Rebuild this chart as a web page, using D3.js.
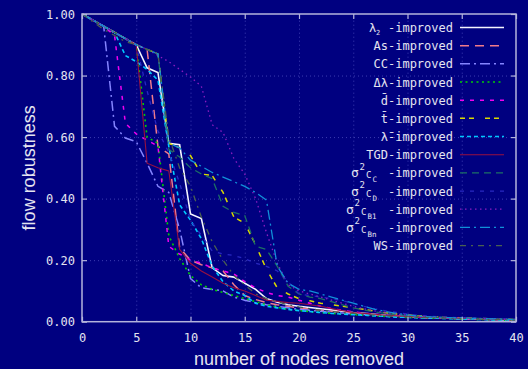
<!DOCTYPE html>
<html>
<head>
<meta charset="utf-8">
<script src="https://cdn.jsdelivr.net/npm/d3@7"></script>
<style>
  html, body { margin: 0; padding: 0; background: #000080; }
  svg { display: block; }
  .tick-label { font-family: "DejaVu Sans Mono", monospace; font-size: 12px; fill: #e4e4f0; }
  .leg { font-family: "DejaVu Sans Mono", monospace; font-size: 12px; fill: #e4e4f0; }
  .title { font-family: "Liberation Sans", Arial, sans-serif; font-size: 18px; fill: #e4e4f0; }
</style>
</head>
<body>
<div id="chart"></div>
<script>
const nodesRemoved = [0,1,2,3,4,5,6,7,8,9,10,11,12,13,14,15,16,17,18,19,20,21,22,23,24,25,26,27,28,29,30,31,32,33,34,35,36,37,38,39,40];
const xTicks = [0, 5, 10, 15, 20, 25, 30, 35, 40];
const yTicks = [0, 0.2, 0.4, 0.6, 0.8, 1.0];

const lambda2 = [1,.98,.96,.94,.92,.90,.825,.81,.58,.575, .35,.335,.175,.15,.145,.125,.105,.075,.063,.055, .05,.046,.042,.038,.034,.03,.027,.024,.021,.019, .017,.015,.013,.012,.011,.010,.009,.008,.007,.006,.005];
const asImp = [1,.98,.96,.94,.92,.90,.885,.57,.545,.24, .20,.185,.175,.165,.12,.085,.072,.062,.055,.05, .045,.041,.037,.034,.031,.028,.025,.022,.02,.018, .016,.015,.013,.012,.011,.01,.009,.008,.007,.006,.005];
const ccImp = [1,.98,.96,.635,.597,.585,.515,.44,.42,.30, .14,.11,.105,.10,.08,.07,.062,.055,.05,.045, .04,.037,.034,.031,.028,.025,.023,.021,.019,.017, .015,.014,.013,.012,.011,.01,.009,.008,.007,.006,.005];
const dLambda = [1,.98,.96,.94,.92,.90,.60,.58,.28,.205, .15,.12,.105,.095,.085,.075,.065,.055,.047,.04, .036,.033,.03,.027,.025,.023,.021,.019,.017,.015, .014,.013,.012,.011,.01,.009,.008,.007,.006,.005,.005];
const dBar = [1,.98,.96,.93,.645,.61,.59,.57,.245,.22, .20,.19,.175,.165,.155,.13,.11,.095,.085,.08, .07,.06,.05,.043,.037,.032,.028,.024,.021,.019, .017,.015,.013,.012,.011,.01,.009,.008,.007,.006,.005];
const tBar = [1,.98,.96,.94,.92,.90,.885,.87,.58,.565, .54,.48,.475,.42,.34,.32,.25,.17,.11,.09, .075,.068,.06,.055,.05,.045,.04,.034,.029,.025, .022,.019,.017,.015,.013,.012,.011,.01,.009,.008,.007];
const lambdaBar = [1,.98,.96,.94,.865,.845,.82,.785,.57,.38, .33,.27,.18,.13,.10,.085,.06,.05,.045,.04, .036,.033,.03,.027,.025,.023,.021,.019,.017,.015, .014,.013,.012,.011,.01,.009,.008,.007,.006,.005,.005];
const tgd = [1,.98,.96,.94,.92,.90,.515,.50,.49,.235, .19,.165,.145,.125,.11,.10,.085,.07,.066,.062, .06,.055,.05,.043,.036,.03,.027,.024,.021,.019, .017,.015,.014,.013,.012,.011,.01,.009,.008,.007,.006];
const sigCC = [1,.98,.96,.94,.92,.90,.885,.87,.56,.535, .50,.48,.465,.375,.355,.345,.245,.235,.18,.115, .09,.08,.075,.065,.055,.045,.038,.032,.027,.023, .02,.018,.016,.014,.013,.012,.011,.01,.009,.008,.007];
const sigCD = [1,.98,.96,.94,.92,.90,.75,.62,.55,.45, .33,.28,.23,.22,.215,.205,.19,.18,.165,.13, .09,.085,.08,.075,.068,.06,.05,.042,.035,.03, .025,.021,.018,.016,.014,.013,.012,.011,.01,.009,.008];
const sigCB1 = [1,.98,.96,.94,.92,.90,.885,.865,.845,.82, .795,.765,.64,.615,.53,.48,.40,.29,.19,.12, .10,.09,.08,.07,.06,.05,.042,.035,.03,.025, .021,.018,.016,.014,.013,.012,.011,.01,.009,.008,.007];
const sigCBn = [1,.98,.96,.94,.92,.90,.885,.87,.58,.565, .525,.505,.485,.47,.455,.44,.42,.395,.18,.125, .105,.10,.09,.08,.07,.06,.05,.04,.033,.027, .022,.018,.016,.014,.013,.012,.011,.01,.009,.008,.007];
const wsImp = [1,.975,.95,.93,.91,.90,.885,.87,.60,.50, .44,.34,.26,.20,.15,.12,.09,.075,.065,.055, .048,.042,.037,.033,.03,.027,.024,.021,.019,.017, .015,.014,.013,.012,.011,.01,.009,.008,.007,.006,.005];

const series = [
  { key: "l2",   values: lambda2,   color: "#f4f4ff", dash: null,        w: 1.6 },
  { key: "As",   values: asImp,     color: "#f07a8a", dash: "9,6",       w: 1.5 },
  { key: "CC",   values: ccImp,     color: "#8484ff", dash: "10,4,2,4",  w: 1.5 },
  { key: "dl",   values: dLambda,   color: "#00d000", dash: "2,3.5",     w: 1.6 },
  { key: "db",   values: dBar,      color: "#f000f0", dash: "4,6",       w: 1.5 },
  { key: "tb",   values: tBar,      color: "#d8d800", dash: "5,4,5,11",  w: 1.5 },
  { key: "lb",   values: lambdaBar, color: "#00c8ff", dash: "4,3",       w: 1.6 },
  { key: "TGD",  values: tgd,       color: "#981040", dash: null,        w: 1.1 },
  { key: "sCC",  values: sigCC,     color: "#1c7064", dash: "7,5",       w: 1.3 },
  { key: "sCD",  values: sigCD,     color: "#2828c0", dash: "4,6",       w: 1.3 },
  { key: "sCB1", values: sigCB1,    color: "#8c1cc0", dash: "1.5,3.5",   w: 1.3 },
  { key: "sCBn", values: sigCBn,    color: "#1090d8", dash: "10,4,2,4",  w: 1.3 },
  { key: "WS",   values: wsImp,     color: "#4a6050", dash: "6,5,2,5",   w: 1.3 }
];

const W = 528, H = 369;
const svg = d3.select("#chart").append("svg").attr("width", W).attr("height", H);

const x = d3.scaleLinear().domain([0, 40]).range([82, 516]);
const y = d3.scaleLinear().domain([0, 1]).range([321.7, 14]);

// grid
svg.append("g")
  .attr("transform", `translate(0,${y(0)})`)
  .call(d3.axisBottom(x).tickValues(xTicks.slice(1, -1)).tickSize(-(y(0) - y(1))).tickFormat(""))
  .call(g => g.select(".domain").remove())
  .selectAll(".tick line").attr("stroke", "#3c3cb0").attr("stroke-dasharray", "1,3");
svg.append("g")
  .attr("transform", `translate(${x(0)},0)`)
  .call(d3.axisLeft(y).tickValues(yTicks.slice(1, -1)).tickSize(-(x(40) - x(0))).tickFormat(""))
  .call(g => g.select(".domain").remove())
  .selectAll(".tick line").attr("stroke", "#3c3cb0").attr("stroke-dasharray", "1,3");

svg.append("clipPath").attr("id", "clip")
  .append("rect").attr("x", x(0)).attr("y", y(1) - 1).attr("width", x(40) - x(0)).attr("height", y(0) - y(1) + 1);

const line = d3.line().x((d, i) => x(nodesRemoved[i])).y(d => y(d));

svg.append("g").attr("clip-path", "url(#clip)")
  .selectAll("path")
  .data(series)
  .join("path")
  .attr("d", d => line(d.values))
  .attr("fill", "none")
  .attr("stroke", d => d.color)
  .attr("stroke-width", d => d.w)
  .attr("stroke-dasharray", d => d.dash);

// frame and ticks
const frame = "#b4b4dc";
svg.append("rect").attr("x", x(0)).attr("y", y(1)).attr("width", x(40) - x(0)).attr("height", y(0) - y(1))
  .attr("fill", "none").attr("stroke", frame).attr("stroke-width", 1.5);

const axB = svg.append("g").attr("transform", `translate(0,${y(0)})`)
  .call(d3.axisBottom(x).tickValues(xTicks).tickSizeInner(-5).tickSizeOuter(0).tickPadding(12).tickFormat(d3.format("d")));
const axT = svg.append("g").attr("transform", `translate(0,${y(1)})`)
  .call(d3.axisTop(x).tickValues(xTicks).tickSizeInner(-5).tickSizeOuter(0).tickFormat(""));
const axL = svg.append("g").attr("transform", `translate(${x(0)},0)`)
  .call(d3.axisLeft(y).tickValues(yTicks).tickSizeInner(-5).tickSizeOuter(0).tickPadding(7).tickFormat(d3.format(".2f")));
const axR = svg.append("g").attr("transform", `translate(${x(40)},0)`)
  .call(d3.axisRight(y).tickValues(yTicks).tickSizeInner(-5).tickSizeOuter(0).tickFormat(""));
[axB, axT, axL, axR].forEach(a => {
  a.select(".domain").remove();
  a.selectAll(".tick line").attr("stroke", frame).attr("stroke-width", 1.2);
  a.selectAll(".tick text").attr("class", "tick-label").attr("fill", null).attr("font-family", null).attr("font-size", null);
});
axL.selectAll(".tick text").attr("dy", "0.35em");

// titles
svg.append("text").attr("class", "title").attr("x", (x(0) + x(40)) / 2).attr("y", 365)
  .attr("text-anchor", "middle").text("number of nodes removed");
svg.append("text").attr("class", "title").attr("transform", `translate(35,${(y(0) + y(1)) / 2}) rotate(-90)`)
  .attr("text-anchor", "middle").text("flow robustness");

// legend
const legY0 = 27.5, legStep = 18.17, legTextX = 453;
const simpleLabels = { As: "As-improved", CC: "CC-improved", dl: "Δλ-improved", db: "d\u0304-improved",
  tb: "t\u0304-improved", lb: "λ\u0304-improved", TGD: "TGD-improved", WS: "WS-improved" };
const sigmaSubs = { sCC: ["C", "C"], sCD: ["C", "D"], sCB1: ["C", "B1"], sCBn: ["C", "Bn"] };

series.forEach((s, i) => {
  const cy = legY0 + i * legStep;
  const lg = svg.append("g");
  lg.append("line").attr("x1", 460).attr("x2", 504).attr("y1", cy).attr("y2", cy)
    .attr("stroke", s.color).attr("stroke-width", s.w).attr("stroke-dasharray", s.dash);
  if (simpleLabels[s.key]) {
    lg.append("text").attr("class", "leg").attr("x", legTextX).attr("y", cy + 4.5)
      .attr("text-anchor", "end").text(simpleLabels[s.key]);
  } else {
    const t = lg.append("text").attr("class", "leg").attr("x", legTextX).attr("y", cy + 4.5)
      .attr("text-anchor", "end").text("-improved");
    const startX = legTextX - t.node().getComputedTextLength();
    if (s.key === "l2") {
      lg.append("text").attr("class", "leg").attr("x", startX - 19).attr("y", cy + 4.5).text("λ");
      lg.append("text").attr("class", "leg").attr("x", startX - 12).attr("y", cy + 7).style("font-size", "7px").text("2");
    } else {
      const sub = sigmaSubs[s.key];
      const wide = sub[1].length > 1;
      const sx = startX - (wide ? 42 : 37);
      lg.append("text").attr("class", "leg").attr("x", sx).attr("y", cy + 4.5).style("font-size", "13px").text("σ");
      lg.append("text").attr("class", "leg").attr("x", sx + 8.5).attr("y", cy - 3).style("font-size", "9px").text("2");
      lg.append("text").attr("class", "leg").attr("x", sx + 15).attr("y", cy + 5.5).style("font-size", "9px").text(sub[0]);
      lg.append("text").attr("class", "leg").attr("x", sx + 21.5).attr("y", cy + 9.5).style("font-size", "7.5px").text(sub[1]);
    }
  }
});
</script>
</body>
</html>
